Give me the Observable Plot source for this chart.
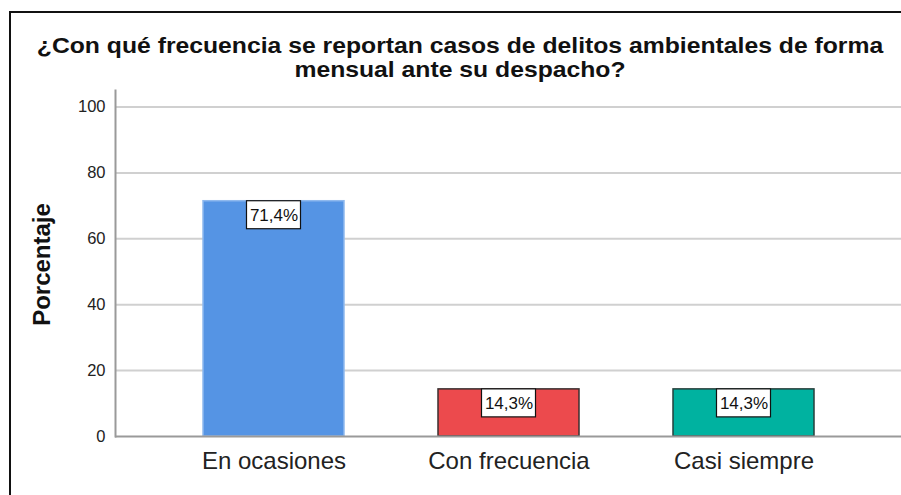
<!DOCTYPE html>
<html>
<head>
<meta charset="utf-8">
<script src="https://cdn.jsdelivr.net/npm/d3@7"></script>
<script src="https://cdn.jsdelivr.net/npm/@observablehq/plot@0.6"></script>
<style>
  html, body { margin: 0; padding: 0; background: #fff; }
  #wrap { position: relative; width: 901px; height: 495px; overflow: hidden; background: #fff;
          font-family: "Liberation Sans", Arial, sans-serif; }
  #border { position: absolute; left: 9px; top: 11px; width: 1000px; height: 1000px;
            border: 2px solid #111; box-sizing: border-box; }
  #title { position: absolute; left: 9px; width: 902px; top: 34px; text-align: center;
           font-weight: bold; font-size: 21.5px; line-height: 24px; color: #111;
           transform: scaleX(1.15); transform-origin: 451px 0; }
  #chart { position: absolute; left: 0; top: 84px; }
</style>
</head>
<body>
<div id="wrap">
  <div id="border"></div>
  <div id="title">¿Con qué frecuencia se reportan casos de delitos ambientales de forma<br>mensual ante su despacho?</div>
  <div id="chart"></div>
</div>
<script>
const categories = ["En ocasiones", "Con frecuencia", "Casi siempre"];
const percentages = [71.4, 14.3, 14.3];
const barColors = ["#5594e4", "#ec4a4d", "#00b2a0"];
const barEdges = ["#8fb9ee", "#3a2f2f", "#263f3b"];
const yTicks = [0, 20, 40, 60, 80, 100];
const yLabel = "Porcentaje";

const data = categories.map((c, i) => ({
  cat: c,
  pct: percentages[i],
  fill: barColors[i],
  stroke: barEdges[i],
  label: percentages[i].toFixed(1).replace(".", ",") + "%"
}));

const font = "'Liberation Sans', Arial, sans-serif";

const chart = Plot.plot({
  width: 901,
  height: 411,
  marginLeft: 115,
  marginRight: 0,
  marginTop: 6,
  marginBottom: 59,
  style: { fontFamily: font, background: "transparent", overflow: "visible" },
  x: { domain: categories, paddingInner: 0.4, paddingOuter: 0.37, axis: null },
  y: { domain: [0, 105], axis: null },
  color: { type: "identity" },
  marks: [
    Plot.ruleY(yTicks.filter(t => t > 0), { stroke: "#d0d0d0", strokeWidth: 2 }),
    Plot.barY(data, { x: "cat", y: "pct", fill: "fill", stroke: "stroke", strokeWidth: 1.5 }),
    Plot.ruleY([0], { stroke: "#9a9a9a", strokeWidth: 2 }),
    Plot.frame({ anchor: "left", stroke: "#9a9a9a", strokeWidth: 2 }),
    Plot.axisY(yTicks, { tickSize: 0, tickPadding: 10, fontSize: 16.5, fill: "#222", label: null }),
    Plot.axisX({ tickSize: 0, tickPadding: 15, fontSize: 24, fill: "#222", label: null }),
    Plot.text([yLabel], { frameAnchor: "left", text: d => d, rotate: -90, dx: -73, dy: 1,
      textAnchor: "middle", fontSize: 24, fontWeight: "bold", fill: "#111" }),
    Plot.barY(data, { x: "cat", y1: "pct", y2: "pct", fill: "white", stroke: "#111", strokeWidth: 1.2,
      insetLeft: 43.5, insetRight: 43.5, insetTop: 0, insetBottom: -28 }),
    Plot.text(data, { x: "cat", y: "pct", text: "label", dy: 14, lineAnchor: "middle",
      fontSize: 17, fill: "#111" })
  ]
});
document.getElementById("chart").appendChild(chart);
</script>
</body>
</html>
